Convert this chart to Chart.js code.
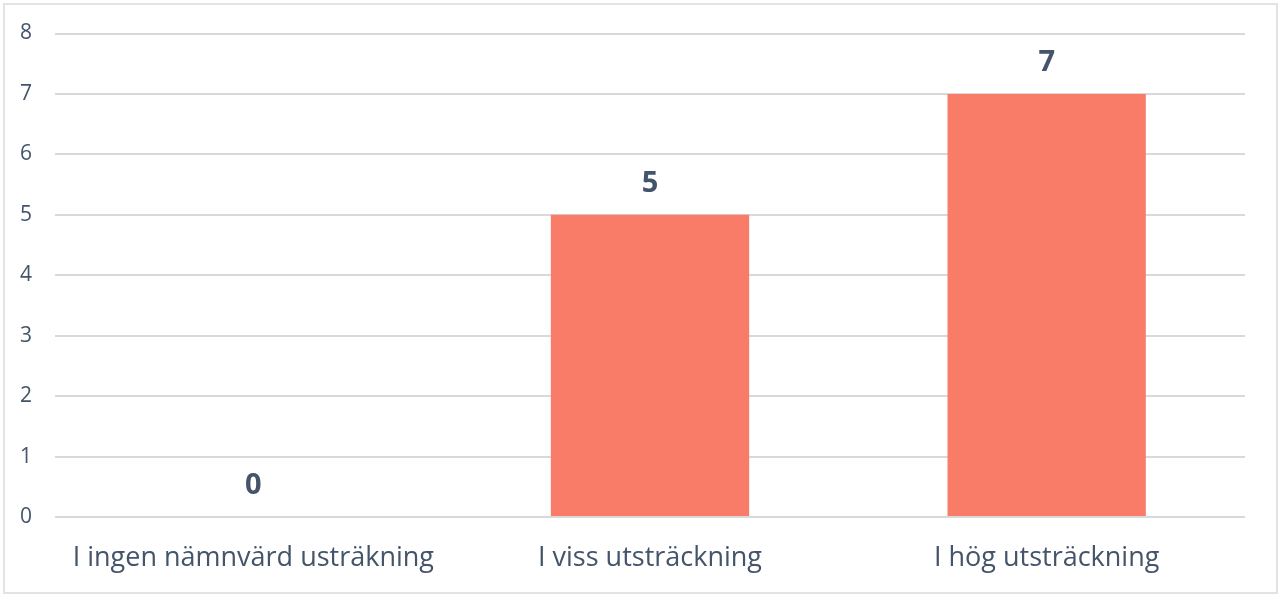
<!DOCTYPE html>
<html lang="sv">
<head>
    <meta charset="UTF-8">
    <title>Utsträckning</title>
    <script src="https://cdn.jsdelivr.net/npm/chart.js"></script>
    <style>
        html, body { margin: 0; padding: 0; background: #fff; }
        .wrap { position: relative; width: 1280px; height: 598px; }
        .ram {
            position: absolute; left: 3px; top: 3px; width: 1271px; height: 587px;
            border: 2px solid #E3E3E3; pointer-events: none;
        }
    </style>
</head>
<body>
    <div class="wrap">
        <canvas id="grafico" width="1280" height="598"></canvas>
        <div class="ram"></div>
    </div>
    <script>
        const kategorier = ['I ingen nämnvärd usträkning', 'I viss utsträckning', 'I hög utsträckning'];
        const antal = [0, 5, 7];
        const yTicks = [0, 1, 2, 3, 4, 5, 6, 7, 8];

        const textFarg = '#44546A';

        // skriver värdet ovanför varje stapel
        const etiketter = {
            id: 'etiketter',
            afterDatasetsDraw(chart) {
                const ctx = chart.ctx;
                ctx.save();
                ctx.font = 'bold 29px "Open Sans"';
                ctx.fillStyle = textFarg;
                ctx.textAlign = 'center';
                ctx.textBaseline = 'middle';
                chart.getDatasetMeta(0).data.forEach((bar, i) => {
                    ctx.fillText(antal[i], bar.x, bar.y - 31);
                });
                ctx.restore();
            }
        };

        new Chart(document.getElementById('grafico'), {
            type: 'bar',
            data: {
                labels: kategorier,
                datasets: [{
                    data: antal,
                    backgroundColor: '#F87C67',
                    borderWidth: 0,
                    categoryPercentage: 0.5,
                    barPercentage: 1
                }]
            },
            options: {
                responsive: false,
                animation: false,
                layout: { padding: { top: 32, right: 35, left: 0, bottom: 0 } },
                plugins: { legend: { display: false }, tooltip: { enabled: false } },
                scales: {
                    x: {
                        grid: { display: false },
                        border: { display: false },
                        ticks: {
                            color: textFarg,
                            font: { family: 'Open Sans', size: 27 },
                            padding: 17,
                            maxRotation: 0
                        },
                        afterFit(scale) { scale.height = 81; }
                    },
                    y: {
                        min: 0,
                        max: 8,
                        afterBuildTicks(scale) { scale.ticks = yTicks.map(v => ({ value: v })); },
                        grid: { color: '#D9D9D9', lineWidth: 2, drawTicks: false },
                        border: { display: false },
                        ticks: {
                            color: textFarg,
                            font: { family: 'Open Sans', size: 21, lineHeight: 1 },
                            padding: 23
                        },
                        afterFit(scale) { scale.width = 55; }
                    }
                }
            },
            plugins: [etiketter]
        });
    </script>
</body>
</html>
